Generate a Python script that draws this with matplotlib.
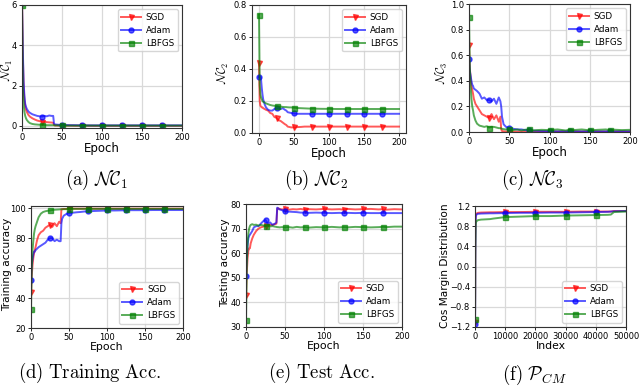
import matplotlib
matplotlib.use("Agg")
import matplotlib.pyplot as plt

plt.rcParams['mathtext.fontset'] = 'cm'
plt.rcParams['font.family'] = ['DejaVu Sans']

# ---------------- data ----------------
EPOCHS = [0, 1, 2, 3, 4, 5, 6, 8, 10, 13, 16, 19, 22, 25, 28, 31, 34, 37, 39, 40, 41, 43, 46, 50,
          55, 60, 65, 70, 75, 80, 90, 100, 110, 120, 125, 130, 140, 150, 160, 170, 175, 180, 190, 200]
OPTIMIZERS = ["SGD", "Adam", "LBFGS"]

NC1_SGD = [6.3, 3.5, 2.0, 1.3, 1.0, 0.8, 0.7, 0.55, 0.46, 0.38, 0.32, 0.27, 0.24, 0.21, 0.2, 0.19, 0.18, 0.17,
           0.16, 0.05, 0.03, 0.03, 0.02, 0.02,
           0.02, 0.02, 0.015, 0.015, 0.015, 0.015, 0.01, 0.01, 0.01, 0.01, 0.01, 0.01, 0.01, 0.01, 0.01, 0.01,
           0.01, 0.01, 0.01, 0.01]
NC1_ADAM = [6.1, 3.8, 2.2, 1.5, 1.1, 0.95, 0.85, 0.72, 0.65, 0.58, 0.54, 0.5, 0.48, 0.47, 0.5, 0.48, 0.52, 0.5,
            0.5, 0.12, 0.08, 0.07, 0.06, 0.05,
            0.045, 0.04, 0.04, 0.035, 0.035, 0.03, 0.03, 0.03, 0.03, 0.03, 0.03, 0.03, 0.03, 0.03, 0.03, 0.03,
            0.03, 0.03, 0.03, 0.03]
NC1_LBFGS = [6.0, 1.9, 1.1, 0.7, 0.5, 0.38, 0.3, 0.2, 0.14, 0.1, 0.08, 0.07, 0.06, 0.05, 0.05, 0.04, 0.04, 0.04,
             0.04, 0.04, 0.03, 0.03, 0.03, 0.025,
             0.02, 0.02, 0.02, 0.02, 0.02, 0.02, 0.02, 0.02, 0.02, 0.02, 0.02, 0.02, 0.02, 0.02, 0.02, 0.02,
             0.02, 0.02, 0.02, 0.02]

NC2_SGD = [0.44, 0.2, 0.17, 0.165, 0.16, 0.16, 0.155, 0.15, 0.145, 0.14, 0.125, 0.12, 0.1, 0.095, 0.08, 0.075,
           0.065, 0.055, 0.05, 0.045, 0.04, 0.038, 0.035, 0.035,
           0.037, 0.038, 0.04, 0.04, 0.04, 0.04, 0.04, 0.04, 0.04, 0.04, 0.04, 0.04, 0.04, 0.04, 0.04, 0.04,
           0.04, 0.04, 0.04, 0.04]
NC2_ADAM = [0.35, 0.35, 0.35, 0.33, 0.28, 0.24, 0.21, 0.18, 0.16, 0.145, 0.14, 0.14, 0.15, 0.155, 0.155, 0.15,
            0.155, 0.145, 0.14, 0.135, 0.13, 0.128, 0.125, 0.122,
            0.12, 0.12, 0.12, 0.12, 0.12, 0.12, 0.12, 0.12, 0.12, 0.12, 0.12, 0.12, 0.12, 0.12, 0.12, 0.12,
            0.12, 0.12, 0.12, 0.12]
NC2_LBFGS = [0.74, 0.3, 0.24, 0.22, 0.21, 0.2, 0.195, 0.19, 0.185, 0.18, 0.175, 0.172, 0.17, 0.168, 0.165, 0.165,
             0.163, 0.162, 0.162, 0.161, 0.161, 0.16, 0.16, 0.158,
             0.156, 0.155, 0.154, 0.153, 0.152, 0.152, 0.151, 0.151, 0.15, 0.15, 0.15, 0.15, 0.15, 0.15, 0.15,
             0.15, 0.15, 0.15, 0.15, 0.15]

NC3_SGD = [0.68, 0.5, 0.42, 0.36, 0.33, 0.3, 0.26, 0.22, 0.2, 0.17, 0.14, 0.13, 0.12, 0.11, 0.14, 0.1, 0.13, 0.08,
           0.12, 0.02, 0.008, 0.005, 0.004, 0.003,
           0.003, 0.003, 0.003, 0.003, 0.003, 0.003, 0.003, 0.003, 0.003, 0.003, 0.003, 0.003, 0.003, 0.003,
           0.003, 0.003, 0.003, 0.003, 0.003, 0.003]
NC3_ADAM = [0.57, 0.48, 0.44, 0.4, 0.37, 0.36, 0.34, 0.33, 0.32, 0.3, 0.26, 0.27, 0.25, 0.25, 0.24, 0.26, 0.22,
            0.27, 0.24, 0.2, 0.12, 0.06, 0.04, 0.03,
            0.025, 0.02, 0.02, 0.015, 0.015, 0.01, 0.008, 0.006, 0.005, 0.005, 0.005, 0.005, 0.005, 0.005, 0.005,
            0.005, 0.005, 0.005, 0.005, 0.005]
NC3_LBFGS = [0.9, 0.5, 0.36, 0.26, 0.2, 0.17, 0.13, 0.09, 0.065, 0.05, 0.045, 0.04, 0.045, 0.035, 0.04, 0.04,
             0.035, 0.03, 0.03, 0.028, 0.025, 0.022, 0.02, 0.02,
             0.015, 0.02, 0.012, 0.018, 0.02, 0.013, 0.017, 0.015, 0.02, 0.012, 0.018, 0.015, 0.02, 0.013,
             0.017, 0.02, 0.014, 0.018, 0.015, 0.017]

TRAIN_SGD = [44, 55, 62, 66.7, 70, 72, 74, 78.7, 82, 84, 85, 87, 88, 89, 87.5, 90, 88, 91, 90, 99.3, 99.4, 99.5,
             99.5, 99.6,
             99.7, 99.7, 99.7, 99.7, 99.7, 99.7, 99.7, 99.7, 99.7, 99.7, 99.7, 99.7, 99.7, 99.7, 99.7, 99.7,
             99.7, 99.7, 99.7, 99.7]
TRAIN_ADAM = [52, 62, 66, 69, 71, 71, 72, 73, 74, 75, 76, 77, 79, 80, 80, 78, 79, 78, 78, 90, 93, 95, 96, 96.8,
              97, 97.3, 97.5, 97.8, 98, 98.1, 98.3, 98.5, 98.5, 98.6, 98.6, 98.7, 98.7, 98.7, 98.8, 98.8, 98.8,
              98.8, 98.8, 98.8]
TRAIN_LBFGS = [33, 60, 72, 78, 83, 86, 88, 91, 94, 96.4, 97.5, 98, 98.3, 98.5, 98.8, 99, 99.1, 99.2, 99.3, 99.3,
               99.3, 99.4, 99.4, 99.5,
               99.6, 99.6, 99.6, 99.6, 99.6, 99.6, 99.6, 99.6, 99.6, 99.6, 99.6, 99.6, 99.6, 99.6, 99.6, 99.6,
               99.6, 99.6, 99.6, 99.6]

TEST_SGD = [43, 52, 58, 61, 62, 62, 64, 66, 67.5, 69, 70, 70.5, 70.8, 71, 71.3, 71.5, 71.5, 71.8, 72, 78, 78.3,
            78, 77.8, 77.9,
            77.7, 77.9, 77.8, 78, 77.7, 77.9, 77.8, 78, 77.8, 77.9, 77.7, 78, 77.8, 77.9, 78, 77.8, 77.9, 77.7,
            77.9, 77.8]
TEST_ADAM = [50.7, 58, 63, 66, 67, 67.5, 68, 69, 70.5, 71, 71, 72, 73, 73.5, 72, 72.5, 71.5, 72, 72.5, 78.5,
             78.3, 77.8, 77.5, 77,
             76.9, 76.8, 76.7, 76.5, 76.5, 76.4, 76.5, 76.4, 76.3, 76.4, 76.3, 76.4, 76.3, 76.4, 76.3, 76.3,
             76.4, 76.3, 76.3, 76.3]
TEST_LBFGS = [33, 55, 64, 68, 70, 71, 71.5, 71.8, 71.5, 71.6, 71.2, 71.5, 71.3, 71, 71.2, 70.9, 71, 70.8, 70.7,
              70.6, 70.6, 70.5, 70.6, 70.5,
              70.6, 70.4, 70.7, 70.5, 70.6, 70.4, 70.6, 70.5, 70.7, 70.5, 70.6, 70.5, 70.7, 70.6, 70.5, 70.6,
              70.7, 70.6, 70.8, 70.8]

INDEX = [0, 50, 100, 200, 300, 500, 800, 1000, 2000, 5000, 6000, 10000, 15000, 20000, 25000, 30000, 35000,
         40000, 44000, 45000, 46000, 50000]
CM_SGD = [-1.1, -0.5, 0.5, 1.0, 1.04, 1.05, 1.06, 1.065, 1.07, 1.075, 1.075, 1.08, 1.08, 1.085, 1.085, 1.085,
          1.09, 1.09, 1.09, 1.09, 1.1, 1.1]
CM_ADAM = [-1.15, -0.8, 0.2, 0.9, 1.0, 1.03, 1.04, 1.045, 1.05, 1.055, 1.055, 1.06, 1.065, 1.065, 1.07, 1.07,
           1.075, 1.08, 1.085, 1.09, 1.095, 1.1]
CM_LBFGS = [-1.05, -0.6, 0.3, 0.8, 0.87, 0.9, 0.91, 0.92, 0.93, 0.94, 0.95, 0.98, 0.99, 1.0, 1.0, 1.01, 1.015,
            1.02, 1.025, 1.03, 1.08, 1.09]

# ---------------- style ----------------
COLORS = ["red", "blue", "green"]
MARKERS = ["v", "o", "s"]
W, H = 640, 386
fig = plt.figure(figsize=(6.4, 3.86), dpi=100)


def box(l, r, t, b):
    return [l / W, 1 - b / H, (r - l) / W, (b - t) / H]


def style(ax, xlabel, ylabel, xfs, yfs, ylab_xy):
    ax.grid(True, color="#d9d9d9", linewidth=0.9)
    ax.set_axisbelow(True)
    ax.tick_params(labelsize=6, length=2.5, width=0.6, pad=1.2)
    for s in ax.spines.values():
        s.set_color("#333333")
        s.set_linewidth(0.8)
    ax.set_xlabel(xlabel, fontsize=xfs, labelpad=0)
    ax.set_ylabel(ylabel, fontsize=yfs)
    ax.yaxis.label.set_verticalalignment("center")
    ax.yaxis.set_label_coords(ylab_xy[0] / W, 1 - ylab_xy[1] / H, transform=fig.transFigure)


def plot_series(ax, x, ys, every, loc):
    for y, c, m, name in zip(ys, COLORS, MARKERS, OPTIMIZERS):
        idx = [i for i, v in enumerate(x) if v % every == 0 and v < x[-1]]
        ax.plot(x, y, color=c, alpha=0.65, linewidth=1.4, marker=m, markevery=idx, markersize=3.6,
                label=name)
    ax.legend(loc=loc, fontsize=6.3, handlelength=2.2, borderpad=0.4, labelspacing=0.45,
              handletextpad=0.6, borderaxespad=0.5, framealpha=0.8, edgecolor="#cccccc")


# (a)
ax = fig.add_axes(box(22, 182, 5, 128))
plot_series(ax, EPOCHS, [NC1_SGD, NC1_ADAM, NC1_LBFGS], 25, "upper right")
ax.set_xlim(0, 200)
ax.set_ylim(-0.1, 6)
ax.set_xticks([0, 50, 100, 150, 200])
ax.set_yticks([0, 2, 4, 6])
style(ax, "Epoch", r"$\mathcal{NC}_1$", 8.5, 8.5, (7, 70))

# (b)
ax = fig.add_axes(box(252, 406, 5, 133))
plot_series(ax, EPOCHS, [NC2_SGD, NC2_ADAM, NC2_LBFGS], 25, "upper right")
ax.set_xlim(-10, 210)
ax.set_ylim(0, 0.8)
ax.set_xticks([0, 50, 100, 150, 200])
ax.set_yticks([0.0, 0.2, 0.4, 0.6, 0.8])
style(ax, "Epoch", r"$\mathcal{NC}_2$", 8.5, 8.5, (223, 73))

# (c)
ax = fig.add_axes(box(469, 630, 4, 132))
plot_series(ax, EPOCHS, [NC3_SGD, NC3_ADAM, NC3_LBFGS], 25, "upper right")
ax.set_xlim(0, 200)
ax.set_ylim(0, 1.0)
ax.set_xticks([0, 50, 100, 150, 200])
ax.set_yticks([0.0, 0.2, 0.4, 0.6, 0.8, 1.0])
style(ax, "Epoch", r"$\mathcal{NC}_3$", 8.5, 8.5, (442, 73))

# (d)
ax = fig.add_axes(box(31, 183, 206, 328))
plot_series(ax, EPOCHS, [TRAIN_SGD, TRAIN_ADAM, TRAIN_LBFGS], 25, "lower right")
ax.set_xlim(0, 200)
ax.set_ylim(20, 101.5)
ax.set_xticks([0, 50, 100, 150, 200])
ax.set_yticks([20, 40, 60, 80, 100])
style(ax, "Epoch", "Training accuracy", 7.8, 7.6, (7, 264))

# (e)
ax = fig.add_axes(box(246, 402, 204, 327))
plot_series(ax, EPOCHS, [TEST_SGD, TEST_ADAM, TEST_LBFGS], 25, "lower right")
ax.set_xlim(0, 200)
ax.set_ylim(30, 80)
ax.set_xticks([0, 50, 100, 150, 200])
ax.set_yticks([30, 40, 50, 60, 70, 80])
style(ax, "Epoch", "Testing accuracy", 7.8, 7.6, (225, 263))

# (f)
ax = fig.add_axes(box(475, 626, 206, 327))
plot_series(ax, INDEX, [CM_SGD, CM_ADAM, CM_LBFGS], 10000, "lower right")
ax.set_xlim(0, 50000)
ax.set_ylim(-1.2, 1.2)
ax.set_xticks([0, 10000, 20000, 30000, 40000, 50000])
ax.set_yticks([-1.2, -0.8, -0.4, 0.0, 0.4, 0.8, 1.2])
style(ax, "Index", "Cos Margin Distribution", 7.8, 7.6, (445, 266))

# captions
CAPTIONS = [(97, 180, r"$\mathrm{(a)}\ \mathcal{NC}_1$"),
            (316, 180, r"$\mathrm{(b)}\ \mathcal{NC}_2$"),
            (532, 180, r"$\mathrm{(c)}\ \mathcal{NC}_3$"),
            (90, 373, r"$\mathrm{(d)\ Training\ Acc.}$"),
            (321, 373, r"$\mathrm{(e)\ Test\ Acc.}$"),
            (534, 375, r"$\mathrm{(f)}\ \mathcal{P}_{CM}$")]
for cx, cy, txt in CAPTIONS:
    fig.text(cx / W, 1 - cy / H, txt, ha="center", va="center", fontsize=13.5)

fig.savefig("out.png", dpi=100)
